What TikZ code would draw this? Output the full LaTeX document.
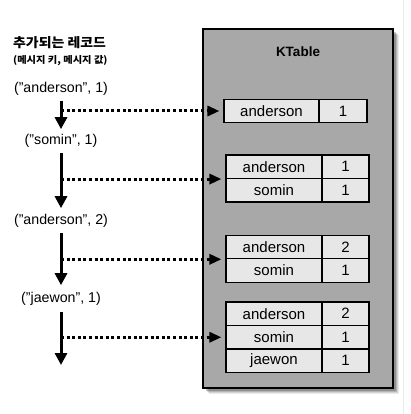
\documentclass[tikz,border=0pt]{standalone}
\usepackage{fontspec}
\setmainfont{Liberation Sans}
\newfontfamily\krfont[FakeStretch=1.07]{Noto Sans CJK KR}
\newfontfamily\krwide[FakeStretch=1.08]{Noto Sans CJK KR}
\usetikzlibrary{arrows.meta}
\definecolor{boxgray}{HTML}{A8A8A8}
\definecolor{cellgray}{HTML}{E7E7E7}
\tikzset{
  rec/.style={font=\fontsize{14.2}{16}\selectfont, inner sep=2pt},
  cellbase/.style={draw=black, fill=cellgray, line width=1.1pt, minimum height=23.5pt, inner sep=0pt, font=\fontsize{15}{17}\selectfont},
  keycell/.style={cellbase, minimum width=95pt},
  valcell/.style={cellbase, minimum width=47pt},
  flow/.style={line width=3pt, -{Triangle[length=12pt,width=12pt]}, shorten <=3pt},
  feed/.style={line width=3pt, dash pattern=on 3pt off 2.6pt, -{Triangle[length=12pt,width=10pt]}, shorten >=4pt}
}
\begin{document}
\begin{tikzpicture}[x=1pt,y=-1pt]
\useasboundingbox (0,0) rectangle (410,414);
\fill[white] (0,0) rectangle (410,414);
\draw[black!8, line width=0.8pt] (403.5,0) -- (403.5,414);
% shadow
\foreach \o/\op in {6/0.08,5/0.1,4/0.14,3/0.2}{
  \fill[black, opacity=\op] (203+\o,29+\o) rectangle (393+\o,388+\o);
}
\node[draw=black, line width=1.8pt, fill=boxgray, minimum width=190pt, minimum height=359pt, inner sep=0pt] (kt) at (298,208.5) {};
\node[font=\bfseries\fontsize{13.5}{15}\selectfont] (ktl) at (298,52) {KTable};

% left labels
\node[anchor=west, font=\krfont\bfseries\fontsize{13}{15}\selectfont, inner sep=0pt] (title) at (13,43) {추가되는 레코드};
\node[anchor=west, font=\krwide\bfseries\fontsize{9.5}{11}\selectfont, inner sep=0pt] (sub) at (13,61) {(메시지 키, 메시지 값)};
\node[rec] (L1) at (61,89) {("anderson", 1)};
\node[rec] (L2) at (61,141) {("somin", 1)};
\node[rec] (L3) at (61,221) {("anderson", 2)};
\node[rec] (L4) at (61,299) {("jaewon", 1)};
\coordinate (E4) at (61,365);

% tables
\node[keycell] (T1k) at (271.5,111) {anderson};
\node[valcell, minimum width=48pt] (T1v) at (343,111) {1};

\node[keycell, minimum width=96pt] (T2k1) at (274,166.75) {anderson};
\node[valcell] (T2v1) at (345.5,166.75) {1};
\node[keycell, minimum width=96pt] (T2k2) at (274,190.25) {somin};
\node[valcell] (T2v2) at (345.5,190.25) {1};

\node[keycell, minimum width=96pt] (T3k1) at (274,247) {anderson};
\node[valcell] (T3v1) at (345.5,247) {2};
\node[keycell, minimum width=96pt] (T3k2) at (274,270.5) {somin};
\node[valcell] (T3v2) at (345.5,270.5) {1};

\node[keycell, minimum width=96pt] (T4k1) at (274,313.75) {anderson};
\node[valcell] (T4v1) at (345.5,313.75) {2};
\node[keycell, minimum width=96pt] (T4k2) at (274,337.25) {somin};
\node[valcell] (T4v2) at (345.5,337.25) {1};
\node[keycell, minimum width=96pt] (T4k3) at (274,360.75) {jaewon};
\node[valcell] (T4v3) at (345.5,360.75) {1};

% vertical flow arrows
\draw[flow, shorten >=3pt] (L1.south) -- (L2.north);
\draw[flow, shorten >=4pt] (L2.south) -- (L3.north);
\draw[flow, shorten >=5pt] (L3.south) -- (L4.north);
\draw[flow, shorten <=4pt] (L4.south) -- (E4);

% branch points
\coordinate (c1) at (L1.south |- T1k.west);
\coordinate (c2) at (L2.south |- T2k1.south west);
\coordinate (c3) at (L3.south |- T3k1.south west);
\coordinate (c4) at (L4.south |- T4k2.west);

\draw[feed] (c1) -- (T1k.west);
\draw[feed] (c2) -- (T2k1.south west);
\draw[feed] (c3) -- (T3k1.south west);
\draw[feed] (c4) -- (T4k2.west);
\end{tikzpicture}
\end{document}
